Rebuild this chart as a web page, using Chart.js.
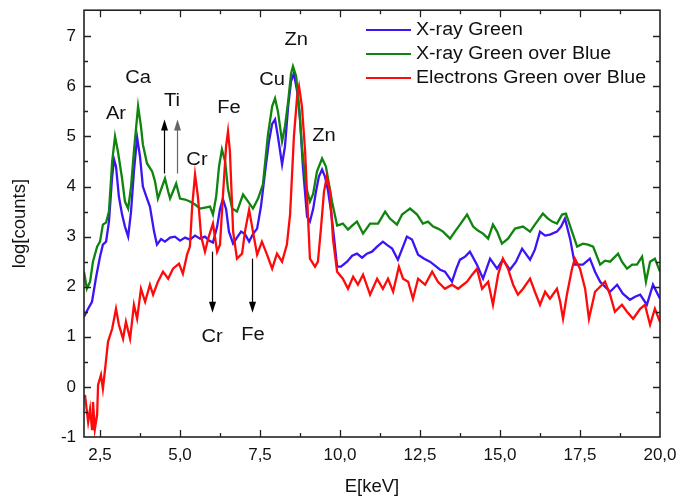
<!DOCTYPE html>
<html>
<head>
<meta charset="utf-8">
<script src="https://cdn.jsdelivr.net/npm/chart.js@4.4.1/dist/chart.umd.min.js"></script>
<style>
  html, body { margin: 0; padding: 0; background: #fff; }
  #wrap { width: 680px; height: 498px; }
</style>
</head>
<body>
<div id="wrap"><canvas id="spec"></canvas></div>
<script>
// energies (keV) and log counts
const blueE = [2.00,2.12,2.25,2.38,2.50,2.59,2.69,2.78,2.88,2.94,3.00,3.09,3.19,3.28,3.38,3.47,3.56,3.66,3.75,3.84,3.97,4.06,4.19,4.28,4.41,4.53,4.69,4.84,5.00,5.16,5.31,5.47,5.63,5.78,5.91,6.03,6.16,6.25,6.34,6.44,6.53,6.66,6.78,6.91,7.03,7.16,7.28,7.41,7.53,7.66,7.78,7.88,7.97,8.06,8.19,8.28,8.38,8.47,8.56,8.66,8.75,8.84,8.97,9.06,9.16,9.25,9.34,9.44,9.53,9.63,9.72,9.81,9.91,10.03,10.22,10.38,10.53,10.69,10.84,11.00,11.16,11.34,11.50,11.63,11.81,11.97,12.09,12.25,12.44,12.63,12.81,12.97,13.13,13.28,13.50,13.63,13.75,13.91,14.06,14.28,14.47,14.69,14.91,15.09,15.31,15.50,15.69,15.94,16.09,16.25,16.41,16.56,16.78,16.91,17.03,17.19,17.34,17.59,17.81,17.97,18.13,18.28,18.44,18.66,18.84,19.06,19.22,19.38,19.59,19.78,20.00];
const blueY = [1.40,1.55,1.70,2.20,2.60,2.84,2.90,3.30,4.20,4.54,4.40,3.80,3.44,3.20,3.00,3.50,4.30,4.98,4.60,4.00,3.76,3.60,3.10,2.84,2.95,2.90,2.98,3.00,2.92,2.98,2.94,3.02,2.96,3.00,2.92,2.88,3.20,3.55,3.75,3.55,3.10,2.86,2.98,3.10,3.05,2.90,3.05,3.16,3.60,4.30,4.90,5.25,5.34,5.00,4.44,4.80,5.60,6.10,6.26,5.90,5.36,4.40,3.40,3.30,3.55,3.90,4.20,4.34,4.20,3.90,3.50,3.00,2.40,2.40,2.50,2.62,2.66,2.58,2.66,2.70,2.80,2.90,2.82,2.76,2.54,2.80,3.00,2.94,2.64,2.56,2.50,2.42,2.34,2.30,2.10,2.35,2.54,2.60,2.70,2.44,2.16,2.56,2.36,2.54,2.34,2.50,2.76,2.54,2.74,3.10,3.02,3.04,3.10,3.20,3.36,2.96,2.44,2.44,2.56,2.30,2.10,2.00,1.90,2.04,1.86,1.74,1.80,1.84,1.64,2.04,1.76];

const greenE = [2.00,2.09,2.19,2.28,2.41,2.50,2.59,2.69,2.78,2.88,2.97,3.06,3.19,3.28,3.38,3.47,3.56,3.69,3.78,3.84,3.97,4.13,4.22,4.31,4.44,4.53,4.63,4.69,4.78,4.88,5.00,5.16,5.31,5.47,5.63,5.78,5.94,6.03,6.13,6.22,6.31,6.41,6.50,6.63,6.78,6.97,7.13,7.28,7.44,7.59,7.75,7.88,7.97,8.06,8.19,8.28,8.38,8.47,8.53,8.63,8.72,8.81,8.94,9.06,9.16,9.28,9.44,9.56,9.75,9.91,10.00,10.09,10.25,10.38,10.53,10.72,10.94,11.19,11.41,11.56,11.78,11.94,12.06,12.19,12.41,12.59,12.75,12.91,13.06,13.22,13.44,13.59,13.75,13.97,14.16,14.31,14.47,14.63,14.78,14.91,15.06,15.25,15.47,15.72,15.94,16.09,16.34,16.50,16.63,16.78,16.94,17.06,17.25,17.41,17.59,17.75,17.91,18.13,18.28,18.44,18.69,18.81,18.97,19.13,19.28,19.44,19.56,19.69,19.84,20.00];
const greenY = [2.30,1.96,2.10,2.50,2.80,2.90,3.24,3.28,3.50,4.50,5.00,4.70,4.16,3.70,3.56,4.00,4.70,5.60,5.20,4.84,4.46,4.30,4.10,3.76,4.00,4.16,3.90,3.76,3.90,4.06,3.76,3.74,3.70,3.64,3.56,3.58,3.60,3.44,3.80,4.40,4.74,4.50,3.95,3.56,3.50,3.84,3.70,3.56,3.76,4.04,5.04,5.60,5.76,5.50,4.90,5.20,5.70,6.25,6.40,6.20,5.60,4.80,4.00,3.70,3.85,4.30,4.56,4.40,3.70,3.22,3.24,3.26,3.14,3.22,3.30,3.06,3.26,3.26,3.50,3.36,3.24,3.44,3.50,3.56,3.44,3.26,3.30,3.20,3.16,3.10,2.96,3.10,3.24,3.44,3.20,3.12,3.06,2.96,3.24,3.10,2.86,2.96,3.16,3.20,3.10,3.24,3.46,3.36,3.30,3.26,3.44,3.46,3.10,2.80,2.86,2.84,2.80,2.44,2.52,2.50,2.66,2.50,2.36,2.44,2.44,2.60,2.10,2.50,2.56,2.30];

const redE = [2.03,2.13,2.19,2.25,2.28,2.34,2.41,2.44,2.53,2.59,2.66,2.75,2.88,3.00,3.09,3.22,3.31,3.44,3.56,3.66,3.78,3.91,4.06,4.16,4.31,4.47,4.63,4.78,4.97,5.09,5.22,5.31,5.38,5.47,5.56,5.66,5.78,5.88,6.03,6.16,6.25,6.34,6.44,6.50,6.56,6.66,6.78,6.94,7.03,7.16,7.28,7.41,7.56,7.72,7.88,8.03,8.19,8.34,8.44,8.56,8.66,8.72,8.81,8.91,9.00,9.06,9.22,9.31,9.41,9.50,9.59,9.69,9.78,9.91,10.09,10.25,10.41,10.56,10.72,10.94,11.16,11.34,11.50,11.66,11.84,11.97,12.13,12.28,12.44,12.66,12.88,13.06,13.28,13.50,13.69,13.97,14.13,14.28,14.44,14.63,14.78,14.94,15.09,15.25,15.41,15.56,15.72,15.94,16.09,16.25,16.41,16.56,16.78,16.88,16.97,17.09,17.25,17.34,17.50,17.66,17.78,17.97,18.19,18.28,18.44,18.59,18.81,18.97,19.16,19.38,19.53,19.69,19.84,20.00];
const redY = [-0.16,-0.70,-0.44,-0.84,-0.30,-0.84,-0.56,0.04,0.24,-0.04,0.36,0.90,1.16,1.56,1.24,0.96,1.30,0.96,1.64,1.36,1.96,1.70,2.04,1.84,2.10,2.30,2.16,2.36,2.46,2.26,2.64,2.80,3.60,4.24,3.80,3.00,2.70,2.96,3.26,2.70,2.84,3.80,4.80,5.10,4.70,3.10,2.56,2.66,3.10,3.54,3.10,2.64,2.90,2.64,2.36,2.66,2.50,2.84,3.44,5.00,5.80,6.00,5.60,4.70,3.40,2.56,2.40,2.50,3.20,3.90,4.20,3.90,2.96,2.30,2.16,1.96,2.20,2.04,2.24,1.84,2.16,1.96,2.16,1.90,2.40,2.16,2.10,1.76,2.16,2.04,2.30,2.10,1.96,2.04,1.96,2.10,2.24,2.36,1.96,2.10,1.64,2.24,2.56,2.36,2.04,1.84,1.96,2.16,1.90,1.64,1.90,1.76,1.96,1.70,1.36,1.84,2.36,2.56,2.36,1.96,1.36,1.90,2.04,2.10,1.84,1.50,1.64,1.50,1.36,1.56,1.64,1.24,1.56,1.30];

const seriesNames = ['X-ray Green', 'X-ray Green over Blue', 'Electrons Green over Blue'];
const seriesColors = ['#3d14f5', '#0f840f', '#ff0a0a'];

const xTicks = [2.5, 5, 7.5, 10, 12.5, 15, 17.5, 20];
const yTicks = [-1, 0, 1, 2, 3, 4, 5, 6, 7];

// element labels: [text, E, logcounts]
const peakLabels = [
  ['Ar', 3.0, 5.44], ['Ca', 3.69, 6.16], ['Ti', 4.75, 5.7], ['Cr', 5.53, 4.52],
  ['Fe', 6.53, 5.56], ['Cu', 7.88, 6.12], ['Zn', 8.63, 6.92], ['Zn', 9.5, 5.0],
  ['Cr', 6.0, 1.0], ['Fe', 7.28, 1.04]
];
// arrows: [E, from, to, colour]
const arrows = [
  [4.5, 4.26, 5.34, '#000'], [4.91, 4.26, 5.34, '#666'],
  [6.0, 2.7, 1.48, '#000'], [7.25, 2.56, 1.48, '#000']
];

function pts(xs, ys) { return xs.map((x, i) => ({ x: x, y: ys[i] })); }

const FONT = '"Liberation Sans", Arial, sans-serif';

// stretched text, the original lettering is a bit wider than Arial
function wideText(c, s, x, y, sx) {
  c.save();
  c.translate(x, y);
  c.scale(sx, 1);
  c.fillText(s, 0, 0);
  c.restore();
}

const frame = {
  id: 'frame',
  afterDatasetsDraw(chart) {
    const c = chart.ctx, a = chart.chartArea;
    const xs = chart.scales.x, ys = chart.scales.y;
    c.save();
    c.strokeStyle = '#222';
    c.lineWidth = 1.6;
    c.strokeRect(a.left, a.top, a.right - a.left, a.bottom - a.top);
    c.lineWidth = 1.3;
    c.beginPath();
    for (let v = 2.5; v < 20; v += 1.25) {
      const px = Math.round(xs.getPixelForValue(v)) + 0.5;
      const len = (Math.abs(v / 2.5 - Math.round(v / 2.5)) < 1e-6) ? 7 : 4;
      c.moveTo(px, a.bottom); c.lineTo(px, a.bottom - len);
      c.moveTo(px, a.top); c.lineTo(px, a.top + len);
    }
    for (let v = -0.5; v < 7.5; v += 0.5) {
      const py = Math.round(ys.getPixelForValue(v)) + 0.5;
      const len = Number.isInteger(v) ? 7 : 4;
      c.moveTo(a.left, py); c.lineTo(a.left + len, py);
      c.moveTo(a.right, py); c.lineTo(a.right - len, py);
    }
    c.stroke();

    // element labels
    c.fillStyle = '#111';
    c.font = '17.5px ' + FONT;
    c.textAlign = 'center';
    c.textBaseline = 'middle';
    peakLabels.forEach(p => {
      wideText(c, p[0], xs.getPixelForValue(p[1]), ys.getPixelForValue(p[2]), 1.15);
    });

    // arrows
    arrows.forEach(ar => {
      const x = Math.round(xs.getPixelForValue(ar[0])) + 0.5;
      const y0 = ys.getPixelForValue(ar[1]), y1 = ys.getPixelForValue(ar[2]);
      const dir = y1 < y0 ? 1 : -1;
      c.strokeStyle = ar[3]; c.fillStyle = ar[3];
      c.lineWidth = 1.2;
      c.beginPath(); c.moveTo(x, y0); c.lineTo(x, y1 + dir * 6); c.stroke();
      c.beginPath();
      c.moveTo(x, y1); c.lineTo(x - 3.5, y1 + dir * 11); c.lineTo(x + 3.5, y1 + dir * 11);
      c.closePath(); c.fill();
    });

    // legend
    c.font = '18px ' + FONT;
    c.textAlign = 'left';
    seriesNames.forEach((n, i) => {
      const y = 30 + i * 24;
      c.strokeStyle = seriesColors[i];
      c.lineWidth = 2;
      c.beginPath(); c.moveTo(366, y); c.lineTo(411, y); c.stroke();
      c.fillStyle = '#111';
      wideText(c, n, 416, y, 1.09);
    });
    c.restore();
  }
};

new Chart(document.getElementById('spec'), {
  type: 'line',
  data: {
    datasets: [
      { label: seriesNames[0], data: pts(blueE, blueY), borderColor: seriesColors[0], order: 3 },
      { label: seriesNames[1], data: pts(greenE, greenY), borderColor: seriesColors[1], order: 2 },
      { label: seriesNames[2], data: pts(redE, redY), borderColor: seriesColors[2], order: 1 }
    ]
  },
  options: {
    responsive: true,
    maintainAspectRatio: false,
    animation: false,
    layout: { padding: { top: 0, right: 20, left: 5, bottom: 0 } },
    elements: {
      line: { borderWidth: 2.3, tension: 0, fill: false },
      point: { radius: 0 }
    },
    plugins: { legend: { display: false }, tooltip: { enabled: false } },
    scales: {
      x: {
        type: 'linear', min: 2, max: 20,
        grid: { display: false },
        border: { display: false },
        afterBuildTicks: s => { s.ticks = xTicks.map(v => ({ value: v })); },
        afterFit: s => { s.height = 61; },
        ticks: {
          color: '#111', font: { family: FONT, size: 17 }, padding: 0, maxRotation: 0,
          callback: v => v.toFixed(1).replace('.', ',')
        },
        title: { display: true, text: 'E[keV]', color: '#111', font: { family: FONT, size: 18.5 }, padding: { top: 0, bottom: 0 } }
      },
      y: {
        min: -1, max: 7.52,
        grid: { display: false },
        border: { display: false },
        afterBuildTicks: s => { s.ticks = yTicks.map(v => ({ value: v })); },
        afterFit: s => { s.width = 79; },
        ticks: { color: '#111', font: { family: FONT, size: 17 }, padding: 0 },
        title: { display: true, text: 'log[counts]', color: '#111', font: { family: FONT, size: 18.5 }, padding: { bottom: 4 } }
      }
    }
  },
  plugins: [frame]
});
</script>
</body>
</html>
